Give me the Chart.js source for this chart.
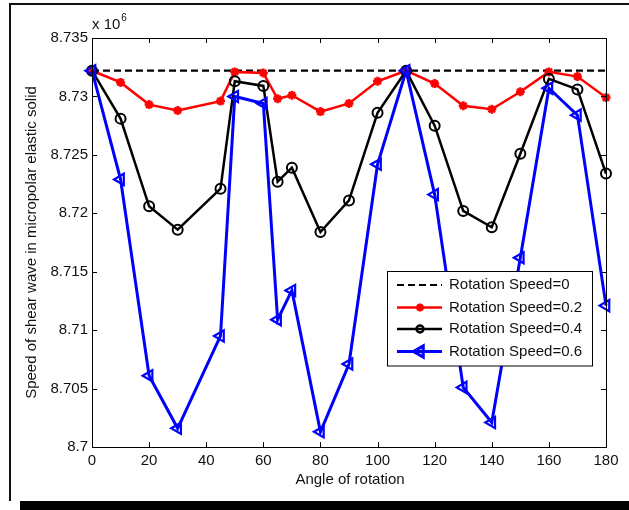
<!DOCTYPE html>
<html>
<head>
<meta charset="utf-8">
<script src="https://cdn.jsdelivr.net/npm/chart.js@4.4.1/dist/chart.umd.min.js"></script>
<style>
  html, body { margin: 0; padding: 0; background: #fff; }
  canvas { display: block; }
</style>
</head>
<body>
<canvas id="chart" width="629" height="510"></canvas>
<script>
// angles of rotation (x axis)
const angles = [0, 10, 20, 30, 45, 50, 60, 65, 70, 80, 90, 100, 110, 120, 130, 140, 150, 160, 170, 180];

// shear wave speed, in units of 10^6
const speed0 = [8.7322, 8.7322, 8.7322, 8.7322, 8.7322, 8.7322, 8.7322, 8.7322, 8.7322, 8.7322,
                8.7322, 8.7322, 8.7322, 8.7322, 8.7322, 8.7322, 8.7322, 8.7322, 8.7322, 8.7322];
const speed02 = [8.7322, 8.7312, 8.7293, 8.7288, 8.7296, 8.7321, 8.7320, 8.7298, 8.7301, 8.7287,
                 8.7294, 8.7313, 8.7322, 8.7311, 8.7292, 8.7289, 8.7304, 8.7321, 8.7317, 8.7299];
const speed04 = [8.7322, 8.7281, 8.7206, 8.7186, 8.7221, 8.7313, 8.7309, 8.7227, 8.7239, 8.7184,
                 8.7211, 8.7286, 8.7322, 8.7275, 8.7202, 8.7188, 8.7251, 8.7315, 8.7306, 8.7234];
const speed06 = [8.7322, 8.7229, 8.7061, 8.7016, 8.7095, 8.7300, 8.7294, 8.7109, 8.7134, 8.7013,
                 8.7071, 8.7242, 8.7322, 8.7216, 8.7051, 8.7021, 8.7162, 8.7307, 8.7284, 8.7121];

const seriesNames = ["Rotation Speed=0", "Rotation Speed=0.2", "Rotation Speed=0.4", "Rotation Speed=0.6"];

const xTicks = { min: 0, max: 180, step: 20 };
const yTicks = { min: 8.7, max: 8.735, step: 0.005 };

const FONT = "Liberation Sans, Arial, sans-serif";
const TXT = "#111";

function pts(vals) {
  return angles.map((a, i) => ({ x: a, y: vals[i] }));
}

// page frame, axes box with inward ticks, exponent label, axis titles, legend
const decor = {
  id: "decor",
  beforeDraw(chart) {
    const ctx = chart.ctx;
    ctx.save();
    ctx.fillStyle = "#fff";
    ctx.fillRect(0, 0, chart.width, chart.height);
    // outer frame
    ctx.strokeStyle = "#111";
    ctx.lineWidth = 2;
    ctx.beginPath();
    ctx.moveTo(10, 501);
    ctx.lineTo(10, 4);
    ctx.lineTo(chart.width, 4);
    ctx.stroke();
    ctx.fillStyle = "#000";
    ctx.fillRect(20, 501, chart.width - 20, 9);
    ctx.restore();
  },
  afterDatasetsDraw(chart) {
    const ctx = chart.ctx;
    const a = chart.chartArea;
    const xs = chart.scales.x, ys = chart.scales.y;
    ctx.save();
    ctx.strokeStyle = "#000";
    ctx.lineWidth = 1;
    ctx.strokeRect(Math.round(a.left) + 0.5, Math.round(a.top) + 0.5,
      Math.round(a.right - a.left), Math.round(a.bottom - a.top));
    const tl = 5;
    ctx.beginPath();
    xs.ticks.forEach(t => {
      const px = Math.round(xs.getPixelForValue(t.value)) + 0.5;
      ctx.moveTo(px, a.bottom); ctx.lineTo(px, a.bottom - tl);
      ctx.moveTo(px, a.top); ctx.lineTo(px, a.top + tl);
    });
    ys.ticks.forEach(t => {
      const py = Math.round(ys.getPixelForValue(t.value)) + 0.5;
      ctx.moveTo(a.left, py); ctx.lineTo(a.left + tl, py);
      ctx.moveTo(a.right, py); ctx.lineTo(a.right - tl, py);
    });
    ctx.stroke();

    // exponent
    ctx.fillStyle = TXT;
    ctx.textBaseline = "alphabetic";
    ctx.textAlign = "left";
    ctx.font = "15px " + FONT;
    ctx.fillText("x 10", a.left, 29);
    const w = ctx.measureText("x 10").width;
    ctx.font = "10px " + FONT;
    ctx.fillText("6", a.left + w + 1, 21);

    // axis titles
    ctx.font = "15px " + FONT;
    ctx.textAlign = "center";
    ctx.textBaseline = "middle";
    ctx.fillText("Angle of rotation", (a.left + a.right) / 2 + 1, 480);
    ctx.save();
    ctx.translate(32, (a.top + a.bottom) / 2);
    ctx.rotate(-Math.PI / 2);
    ctx.fillText("Speed of shear wave in micropolar elastic solid", 0, 0);
    ctx.restore();

    // legend
    const bx = 387.5, by = 271.5, bw = 205, bh = 94.5;
    ctx.fillStyle = "#fff";
    ctx.fillRect(bx, by, bw, bh);
    ctx.strokeStyle = "#000";
    ctx.lineWidth = 1;
    ctx.strokeRect(bx, by, bw, bh);
    const rows = [285, 307.5, 329, 351.5];
    chart.data.datasets.forEach((ds, i) => {
      const y = rows[i];
      ctx.save();
      ctx.strokeStyle = ds.borderColor;
      ctx.lineWidth = ds.borderWidth;
      ctx.setLineDash(ds.borderDash || []);
      ctx.beginPath();
      ctx.moveTo(397, y); ctx.lineTo(442, y);
      ctx.stroke();
      ctx.setLineDash([]);
      if (ds.pointRadius > 0) {
        ctx.strokeStyle = ds.pointBorderColor;
        ctx.fillStyle = ds.pointBackgroundColor;
        Chart.helpers.drawPoint(ctx, {
          pointStyle: ds.pointStyle,
          rotation: ds.pointRotation || 0,
          radius: ds.legendRadius,
          borderWidth: ds.pointBorderWidth
        }, 420, y);
      }
      ctx.restore();
      ctx.fillStyle = TXT;
      ctx.font = "15px " + FONT;
      ctx.textAlign = "left";
      ctx.textBaseline = "middle";
      ctx.fillText(ds.label, 449, y);
    });
    ctx.restore();
  }
};

new Chart(document.getElementById("chart"), {
  type: "line",
  data: {
    datasets: [
      {
        label: seriesNames[0], data: pts(speed0),
        borderColor: "#000", borderWidth: 2.2, borderDash: [7, 4],
        pointRadius: 0, order: 3
      },
      {
        label: seriesNames[1], data: pts(speed02),
        borderColor: "#ff0000", borderWidth: 2.5,
        pointStyle: "star", pointRadius: 4.5, legendRadius: 4,
        pointBorderColor: "#ff0000", pointBackgroundColor: "#ff0000", pointBorderWidth: 2.5, order: 2
      },
      {
        label: seriesNames[2], data: pts(speed04),
        borderColor: "#000", borderWidth: 2.5,
        pointStyle: "circle", pointRadius: 5, legendRadius: 3.5,
        pointBorderColor: "#000", pointBackgroundColor: "rgba(0,0,0,0)", pointBorderWidth: 2, order: 1
      },
      {
        label: seriesNames[3], data: pts(speed06),
        borderColor: "#0000ff", borderWidth: 3,
        pointStyle: "triangle", pointRotation: -90, pointRadius: 6.5, legendRadius: 6.5,
        pointBorderColor: "#0000ff", pointBackgroundColor: "rgba(0,0,0,0)", pointBorderWidth: 2.2, order: 0
      }
    ]
  },
  options: {
    responsive: false,
    animation: false,
    devicePixelRatio: 1,
    clip: false,
    elements: { line: { tension: 0 } },
    layout: { padding: { left: 0, top: 38, right: 23, bottom: 0 } },
    plugins: { legend: { display: false }, tooltip: { enabled: false } },
    scales: {
      x: {
        type: "linear", min: xTicks.min, max: xTicks.max,
        ticks: { stepSize: xTicks.step, padding: -3, color: TXT, font: { family: FONT, size: 15 } },
        grid: { display: false },
        border: { display: false },
        afterFit: s => { s.height = 63; }
      },
      y: {
        type: "linear", min: yTicks.min, max: yTicks.max,
        ticks: {
          stepSize: yTicks.step, padding: -4, color: TXT, font: { family: FONT, size: 15 },
          callback: v => String(Number(v.toFixed(3)))
        },
        grid: { display: false },
        border: { display: false },
        afterFit: s => { s.width = 92; }
      }
    }
  },
  plugins: [decor]
});
</script>
</body>
</html>
